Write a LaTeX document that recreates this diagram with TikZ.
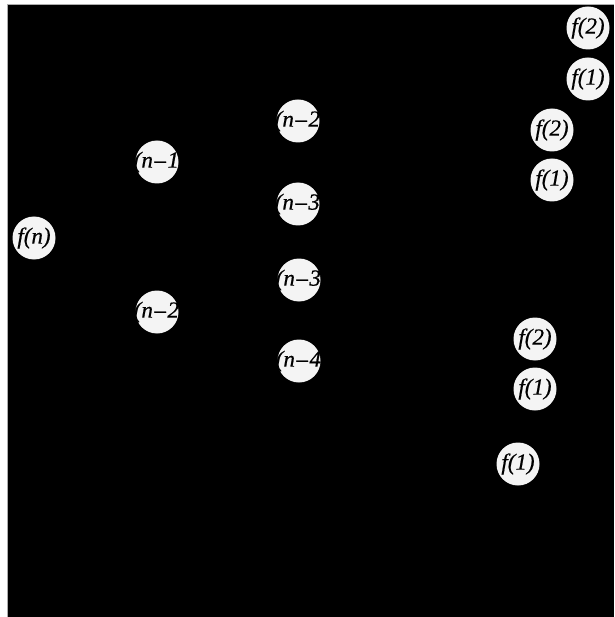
\documentclass[tikz,border=0pt]{standalone}
\usepackage{fontspec}
\setmainfont{Liberation Serif}
\newfontfamily\callfont[FakeBold=0.6]{Liberation Serif Italic}
\begin{document}
\begin{tikzpicture}[x=1pt,y=-1pt,
  call/.style={circle,fill=gray!9,inner sep=0pt,minimum size=43pt,
    font=\callfont\fontsize{23}{23}\selectfont,text=black},
]
\useasboundingbox (0,0) rectangle (614,617);
% dark panel with a thin grey rule on its left and top sides
\fill[black] (7.5,4.5) rectangle (614,617);
\draw[gray!65,line width=1pt] (7.5,617) -- (7.5,4.5) -- (614,4.5);

% recursion tree of calls; the wide labels are narrowed to zero so each disc keeps its size
\newcommand{\cl}[1]{\makebox[0pt]{#1}}
\newcommand{\mn}{\kern1.5pt–\kern1.5pt}
\node[call] (n)    at (34,238)  {\cl{f(n)}};
\node[call] (n1)   at (157,162) {\cl{f(n\mn1)}};
\node[call] (n2a)  at (298,121) {\cl{f(n\mn2)}};
\node[call] (n3a)  at (298,204) {\cl{f(n\mn3)}};
\node[call] (n2b)  at (157,312) {\cl{f(n\mn2)}};
\node[call] (n3b)  at (299,280) {\cl{f(n\mn3)}};
\node[call] (n4)   at (299,361) {\cl{f(n\mn4)}};
\node[call] (a2)   at (588,28)  {\cl{f(2)}};
\node[call] (a1)   at (588,79)  {\cl{f(1)}};
\node[call] (b2)   at (552,130) {\cl{f(2)}};
\node[call] (b1)   at (552,180) {\cl{f(1)}};
\node[call] (c2)   at (535,339) {\cl{f(2)}};
\node[call] (c1)   at (535,389) {\cl{f(1)}};
\node[call] (d1)   at (518,464) {\cl{f(1)}};
\end{tikzpicture}
\end{document}
